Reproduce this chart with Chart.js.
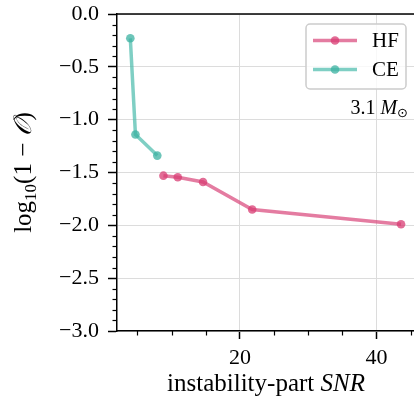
<!DOCTYPE html>
<html lang="en">
<head>
    <meta charset="UTF-8">
    <title>Mismatch vs SNR</title>
    <style>
        body {
            margin: 0;
            background: #fff;
            overflow: hidden;
        }

        /* a little wider than the window so the right spine falls outside, as in the cropped original */
        .wrap {
            width: 419px;
            height: 402px;
            position: relative;
        }
    </style>
</head>
<body>
    <div class="wrap">
        <canvas id="chart"></canvas>
    </div>

    <script src="https://cdn.jsdelivr.net/npm/chart.js"></script>
    <script>
        // values
        const hfSnr = [8.8, 10.9, 14.6, 21.8, 43.6];
        const hfLogMismatch = [-1.53, -1.545, -1.59, -1.85, -1.99];
        const ceSnr = [3.95, 4.7, 7.9];
        const ceLogMismatch = [-0.23, -1.14, -1.34];

        const seriesNames = ['HF', 'CE'];
        const xMajorTicks = [20, 40];
        const xMinorTicks = [5, 10, 15, 25, 30, 35, 45];
        const yMajorTicks = [-3.0, -2.5, -2.0, -1.5, -1.0, -0.5, 0.0];
        const massLabel = '3.1';

        const SERIF = '"Liberation Serif", "DejaVu Serif", serif';
        const hfLine = 'rgba(216, 69, 121, 0.7)';
        const hfDot = 'rgba(216, 60, 115, 0.75)';
        const ceLine = 'rgba(72, 186, 171, 0.7)';
        const ceDot = 'rgba(60, 178, 162, 0.75)';

        const toPoints = (xs, ys) => xs.map((x, i) => ({ x: x, y: ys[i] }));

        // draws a row of text pieces with their own fonts, centred or right aligned
        function drawPieces(ctx, pieces, x, y, align) {
            let total = 0;
            pieces.forEach(p => {
                ctx.font = p.font;
                total += ctx.measureText(p.t).width;
            });
            let cx = align === 'right' ? x - total : x - total / 2;
            ctx.textAlign = 'left';
            pieces.forEach(p => {
                ctx.font = p.font;
                ctx.fillText(p.t, cx, y + (p.dy || 0));
                cx += ctx.measureText(p.t).width;
            });
        }

        const extras = {
            id: 'extras',
            afterDraw(chart) {
                const ctx = chart.ctx;
                const area = chart.chartArea;
                const xs = chart.scales.x;
                const ys = chart.scales.y;
                ctx.save();
                ctx.strokeStyle = '#000';
                ctx.fillStyle = '#000';

                // top spine
                ctx.lineWidth = 1.5;
                ctx.beginPath();
                ctx.moveTo(area.left, area.top);
                ctx.lineTo(area.right, area.top);
                ctx.stroke();

                // minor ticks
                ctx.lineWidth = 1.2;
                xMinorTicks.forEach(v => {
                    const px = Math.round(xs.getPixelForValue(v)) + 0.5;
                    ctx.beginPath();
                    ctx.moveTo(px, area.bottom);
                    ctx.lineTo(px, area.bottom + 4.5);
                    ctx.stroke();
                });
                for (let k = -29; k < 0; k++) {
                    if (k % 5 === 0) continue;
                    const py = Math.round(ys.getPixelForValue(k / 10)) + 0.5;
                    ctx.beginPath();
                    ctx.moveTo(area.left - 4.5, py);
                    ctx.lineTo(area.left, py);
                    ctx.stroke();
                }

                // axis titles
                ctx.textBaseline = 'alphabetic';
                drawPieces(ctx, [
                    { t: 'instability-part ', font: '25px ' + SERIF },
                    { t: 'SNR', font: 'italic 25px ' + SERIF }
                ], 266, 391, 'center');

                ctx.save();
                ctx.translate(31, (area.top + area.bottom) / 2);
                ctx.rotate(-Math.PI / 2);
                drawPieces(ctx, [
                    { t: 'log', font: '25px ' + SERIF },
                    { t: '10', font: '17px ' + SERIF, dy: 5 },
                    { t: '(1 \u2212 ', font: '25px ' + SERIF },
                    { t: '\u{1D4AA}', font: 'italic 25px ' + SERIF },
                    { t: ')', font: '25px ' + SERIF }
                ], 0, 0, 'center');
                ctx.restore();

                // legend box
                const bx = 306, by = 24, bw = 100, bh = 65, r = 4;
                ctx.fillStyle = 'rgba(255,255,255,0.8)';
                ctx.strokeStyle = '#cccccc';
                ctx.lineWidth = 1.5;
                ctx.beginPath();
                ctx.roundRect(bx, by, bw, bh, r);
                ctx.fill();
                ctx.stroke();

                chart.data.datasets.forEach((ds, i) => {
                    const ly = 40.5 + i * 29;
                    ctx.strokeStyle = ds.borderColor;
                    ctx.lineWidth = ds.borderWidth;
                    ctx.beginPath();
                    ctx.moveTo(313, ly);
                    ctx.lineTo(357, ly);
                    ctx.stroke();
                    ctx.fillStyle = ds.pointBackgroundColor;
                    ctx.beginPath();
                    ctx.arc(335, ly, ds.pointRadius, 0, Math.PI * 2);
                    ctx.fill();
                    ctx.fillStyle = '#000';
                    ctx.font = '21px ' + SERIF;
                    ctx.textAlign = 'left';
                    ctx.textBaseline = 'middle';
                    ctx.fillText(ds.label, 372, ly + 1);
                });

                // mass annotation
                ctx.fillStyle = '#000';
                ctx.textBaseline = 'alphabetic';
                drawPieces(ctx, [
                    { t: massLabel + ' ', font: '20px ' + SERIF },
                    { t: 'M', font: 'italic 20px ' + SERIF },
                    { t: '\u2299', font: '13px "DejaVu Sans", sans-serif', dy: 3 }
                ], 408, 114, 'right');

                ctx.restore();
            }
        };

        new Chart(document.getElementById('chart'), {
            type: 'scatter',
            data: {
                datasets: [{
                    label: seriesNames[0],
                    data: toPoints(hfSnr, hfLogMismatch),
                    showLine: true,
                    borderColor: hfLine,
                    borderWidth: 3.5,
                    pointRadius: 4.3,
                    pointBackgroundColor: hfDot,
                    pointBorderWidth: 0,
                    pointHoverRadius: 4.3
                }, {
                    label: seriesNames[1],
                    data: toPoints(ceSnr, ceLogMismatch),
                    showLine: true,
                    borderColor: ceLine,
                    borderWidth: 3.5,
                    pointRadius: 4.3,
                    pointBackgroundColor: ceDot,
                    pointBorderWidth: 0,
                    pointHoverRadius: 4.3
                }]
            },
            options: {
                responsive: true,
                maintainAspectRatio: false,
                devicePixelRatio: 1,
                animation: false,
                layout: { padding: { top: 14, right: 0, left: 0, bottom: 0 } },
                plugins: {
                    legend: { display: false },
                    tooltip: { enabled: false }
                },
                scales: {
                    x: {
                        type: 'linear',
                        min: 2.0,
                        max: 45.6,
                        afterBuildTicks: s => { s.ticks = xMajorTicks.map(v => ({ value: v })); },
                        afterFit: s => { s.height = 71; s.paddingLeft = 0; s.paddingRight = 0; },
                        grid: {
                            color: '#dcdcdc',
                            lineWidth: 1,
                            tickColor: '#000',
                            tickLength: 8,
                            tickWidth: 1.5
                        },
                        border: { color: '#000', width: 1.5 },
                        ticks: {
                            color: '#000',
                            font: { family: SERIF, size: 22 },
                            padding: 6,
                            maxRotation: 0,
                            autoSkip: false
                        }
                    },
                    y: {
                        type: 'linear',
                        min: -3,
                        max: 0,
                        afterBuildTicks: s => { s.ticks = yMajorTicks.map(v => ({ value: v })); },
                        afterFit: s => { s.width = 117; s.paddingTop = 0; s.paddingBottom = 0; },
                        grid: {
                            color: '#dcdcdc',
                            lineWidth: 1,
                            tickColor: '#000',
                            tickLength: 9,
                            tickWidth: 1.5
                        },
                        border: { color: '#000', width: 1.5 },
                        ticks: {
                            color: '#000',
                            font: { family: SERIF, size: 22 },
                            padding: 9,
                            callback: v => (v < 0 ? '\u2212' : '') + Math.abs(v).toFixed(1)
                        }
                    }
                }
            },
            plugins: [extras]
        });
    </script>
</body>
</html>
